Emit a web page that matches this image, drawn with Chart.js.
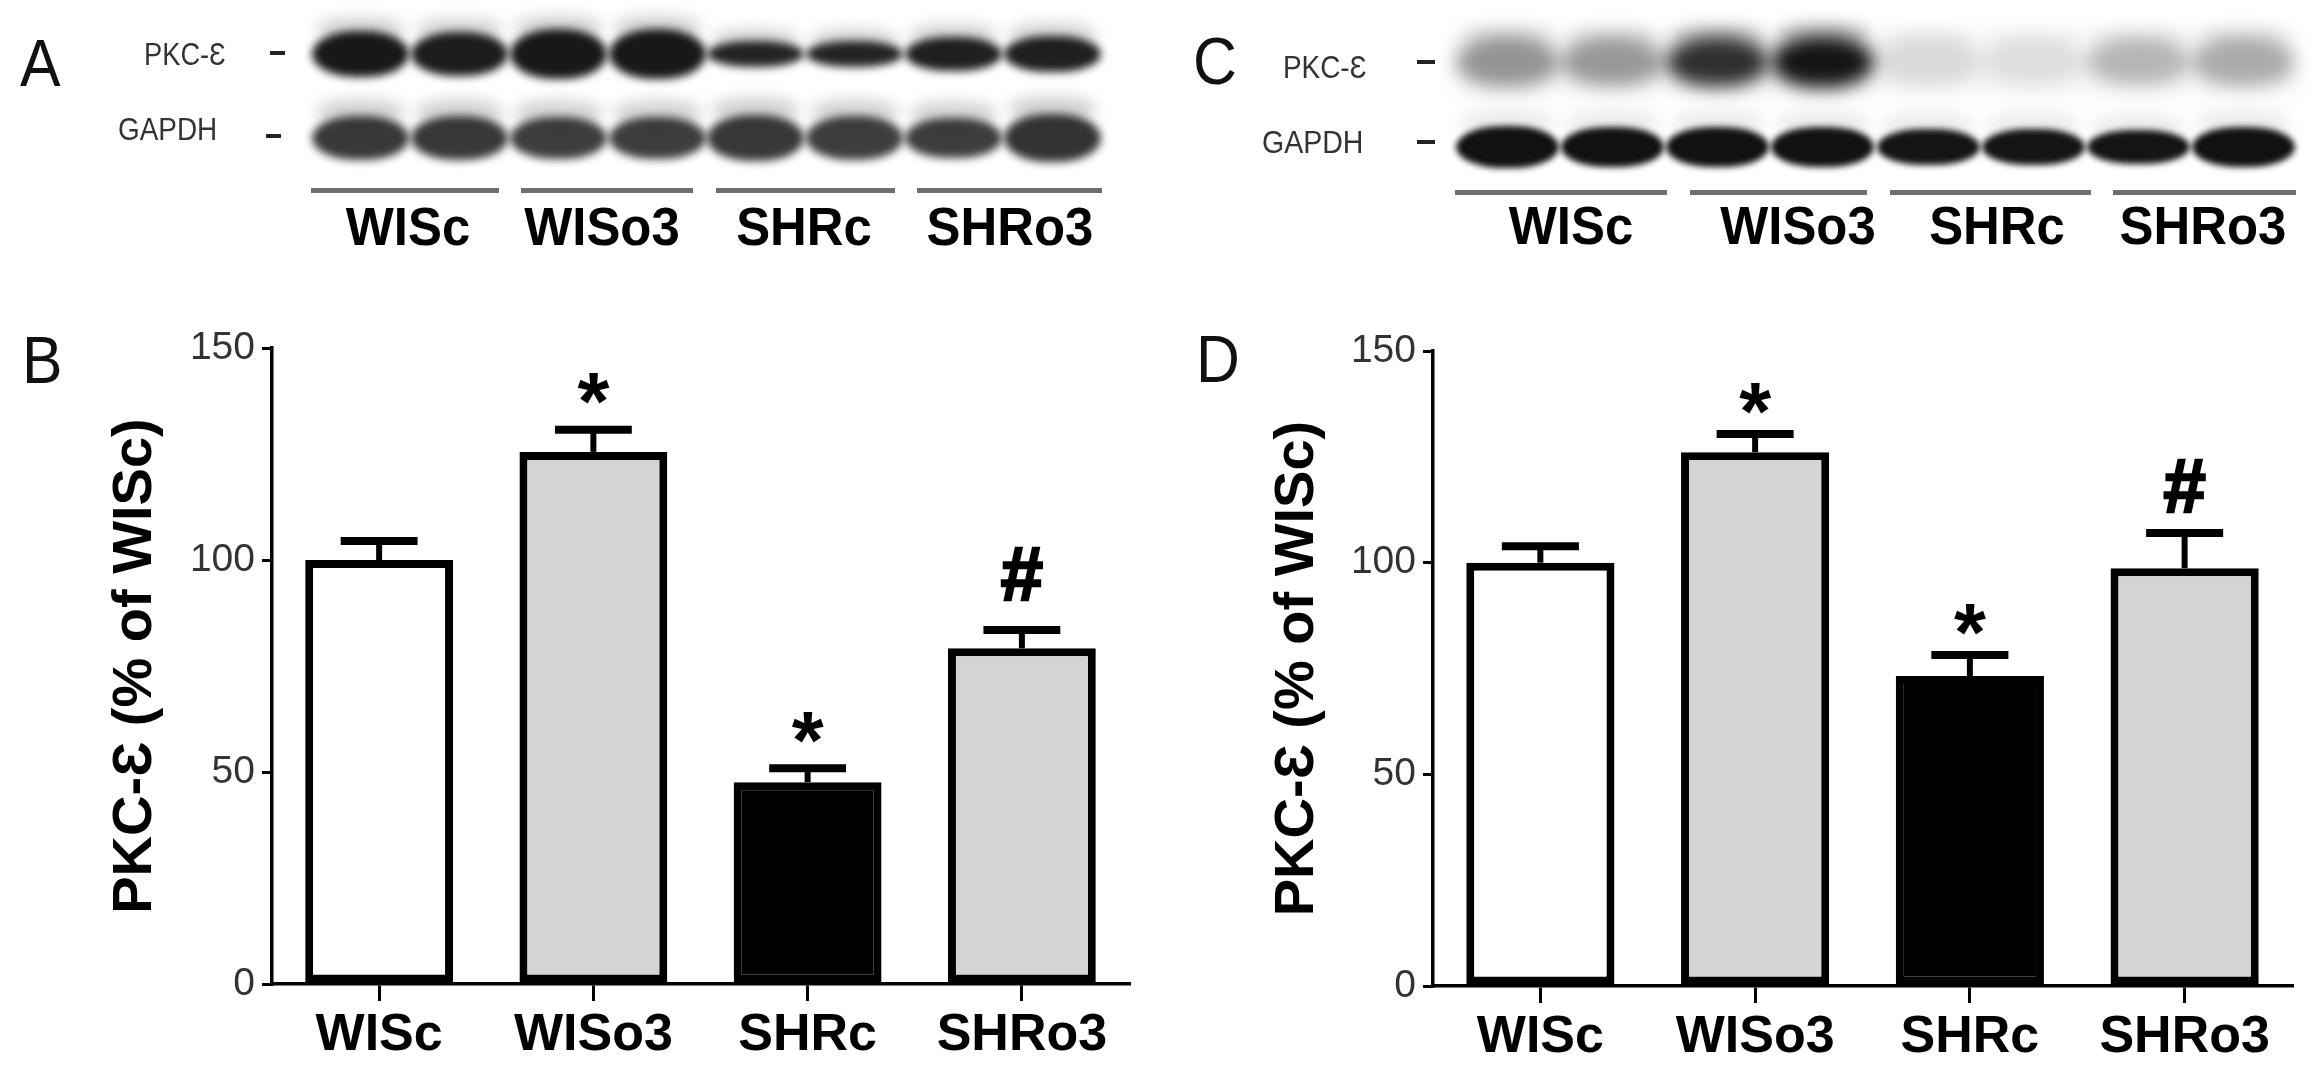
<!DOCTYPE html>
<html>
<head>
<meta charset="utf-8">
<script src="https://cdn.jsdelivr.net/npm/chart.js@4"></script>
<style>
  body { margin: 0; width: 2316px; height: 1080px; background: #fff; position: relative; overflow: hidden;
         font-family: "Liberation Sans", Arial, sans-serif; }
  .abs { position: absolute; white-space: nowrap; line-height: 1; }
  canvas { position: absolute; }
</style>
</head>
<body>
<div id="art"></div>
<canvas id="chartB" width="1160" height="780" style="left:0;top:300px"></canvas>
<canvas id="chartD" width="1156" height="780" style="left:1160px;top:300px"></canvas>
<script>
// group names
const groups = ['WISc', 'WISo3', 'SHRc', 'SHRo3'];
const yTicks = [0, 50, 100, 150];

// panel B (mean, sem, significance marks)
const meanB = [100, 125.5, 47.6, 79.2];
const semB = [4.5, 5.2, 3.3, 4.3];
const marksB = ['', '*', '*', '#'];

// panel D
const meanD = [100, 126.1, 73.2, 98.7];
const semD = [3.9, 4.3, 5.0, 8.3];
const marksD = ['', '*', '*', '#'];

// blot band darkness per lane (0 = none, 1 = black)
const blotA_pkc = [0.95, 0.93, 0.95, 0.95, 0.9, 0.9, 0.92, 0.92];
const blotA_gapdh = [0.82, 0.82, 0.8, 0.8, 0.82, 0.8, 0.8, 0.84];
const blotC_pkc = [0.42, 0.4, 0.85, 0.97, 0.12, 0.1, 0.27, 0.32];
const blotC_gapdh = [0.98, 0.98, 0.98, 0.98, 0.97, 0.97, 0.97, 0.98];

const barFill = ['#ffffff', '#d4d4d4', '#000000', '#d4d4d4'];
const FONT = '"Liberation Sans", Arial, sans-serif';

// ---------- blots and labels (plain html) ----------
const art = document.getElementById('art');

function el(css, text) {
  const d = document.createElement('div');
  d.className = 'abs';
  d.style.cssText += css;
  if (text !== undefined) d.textContent = text;
  art.appendChild(d);
  return d;
}

// text placed by its cap centre
function txt(text, x, yc, size, weight, align, color, sx) {
  const d = el(`top:${yc - 0.4885 * size}px;font-size:${size}px;font-weight:${weight};color:${color || '#000'};`, text);
  if (align === 'center') { d.style.left = x + 'px'; d.style.transform = `translateX(-50%) scaleX(${sx || 1})`; }
  else { d.style.left = x + 'px'; d.style.transformOrigin = 'left'; d.style.transform = `scaleX(${sx || 1})`; }
  return d;
}

function band(cx, cy, w, h, a, blur) {
  el(`left:${cx - w / 2}px;top:${cy - h / 2}px;width:${w}px;height:${h}px;border-radius:45%/50%;` +
     `background:rgba(12,12,12,${a});filter:blur(${blur}px);`);
}

function blot(x0, x1, pkc, gapdh, o) {
  const lw = (x1 - x0) / pkc.length;
  pkc.forEach((a, i) => {
    const cx = x0 + lw * (i + 0.5);
    band(cx, o.pkcY - o.pkcH[i] * 0.55, lw * 0.9, 24, a * 0.18, 7);
    band(cx, o.pkcY, lw * 0.98, o.pkcH[i], a, o.pkcBlur);
  });
  gapdh.forEach((a, i) => {
    const cx = x0 + lw * (i + 0.5);
    band(cx, o.gY - o.gH[i] * 0.6, lw * 0.9, 26, a * o.gSmear, 7);
    band(cx, o.gY, lw * 0.98, o.gH[i], a, o.gBlur);
  });
}

blot(311, 1102, blotA_pkc, blotA_gapdh, {
  pkcY: 54, pkcH: [46, 44, 50, 50, 26, 26, 34, 36], pkcBlur: 4,
  gY: 138, gH: [44, 44, 42, 42, 46, 44, 40, 48], gBlur: 4, gSmear: 0.22
});
el('left:1455px;top:30px;width:841px;height:66px;background:rgba(0,0,0,0.035);filter:blur(10px);');
blot(1455, 2296, blotC_pkc, blotC_gapdh, {
  pkcY: 62, pkcH: [50, 48, 50, 52, 46, 44, 46, 48], pkcBlur: 9,
  gY: 147, gH: [42, 40, 40, 40, 36, 36, 34, 40], gBlur: 3, gSmear: 0.08
});

// underlines and group labels below the blots
const ulA = [[311, 499], [521, 693], [716, 895], [917, 1102]];
const labA = [408, 602, 804, 1010];
const ulC = [[1455, 1667], [1690, 1867], [1890, 2091], [2113, 2296]];
const labC = [1571, 1798, 1997, 2203];
ulA.forEach(s => el(`left:${s[0]}px;top:188px;width:${s[1] - s[0]}px;height:5px;background:#6e6e6e;`));
ulC.forEach(s => el(`left:${s[0]}px;top:190px;width:${s[1] - s[0]}px;height:5px;background:#6e6e6e;`));
groups.forEach((g, i) => {
  txt(g, labA[i], 226, 53, 'bold', 'center', '#000', 0.96);
  txt(g, labC[i], 225, 53, 'bold', 'center', '#000', 0.96);
});

// row labels and markers
txt('PKC-\u0190', 144, 54, 31, 'normal', 'left', '#333', 0.88);
txt('GAPDH', 118, 129, 31, 'normal', 'left', '#333', 0.9);
el('left:270px;top:51px;width:15px;height:4px;background:#222;');
el('left:266px;top:134px;width:15px;height:4px;background:#222;');
txt('PKC-\u0190', 1283, 67, 31, 'normal', 'left', '#333', 0.9);
txt('GAPDH', 1262, 142, 31, 'normal', 'left', '#333', 0.92);
el('left:1417px;top:60px;width:18px;height:4px;background:#222;');
el('left:1417px;top:140px;width:18px;height:4px;background:#222;');

// panel letters
txt('A', 20, 62, 66, 'normal', 'left', '#111', 0.92);
txt('B', 22, 359, 66, 'normal', 'left', '#111', 0.92);
txt('C', 1193, 60, 66, 'normal', 'left', '#111', 0.92);
txt('D', 1196, 358, 66, 'normal', 'left', '#111', 0.92);

// ---------- bar charts ----------
const errorBars = {
  id: 'errorBars',
  afterDatasetsDraw(chart, args, opts) {
    const {ctx, scales: {y}} = chart;
    const bars = chart.getDatasetMeta(0).data;
    const vals = chart.data.datasets[0].data;
    ctx.save();
    ctx.strokeStyle = '#000';
    ctx.fillStyle = '#000';
    ctx.lineCap = 'butt';
    bars.forEach((bar, i) => {
      const top = y.getPixelForValue(vals[i] + opts.sem[i]);
      const half = bar.width * 0.26;
      ctx.lineWidth = 6;
      ctx.beginPath();
      ctx.moveTo(bar.x, bar.y);
      ctx.lineTo(bar.x, top);
      ctx.stroke();
      ctx.lineWidth = 8;
      ctx.beginPath();
      ctx.moveTo(bar.x - half, top);
      ctx.lineTo(bar.x + half, top);
      ctx.stroke();
      const m = opts.marks[i];
      if (m) {
        const star = m === '*';
        const size = star ? opts.starSize : opts.hashSize;
        const gap = star ? opts.starGap : opts.hashGap;
        const ty = top - gap + (star ? 0.553 : 0.36) * size;
        ctx.font = `bold ${size}px ${FONT}`;
        ctx.textAlign = 'center';
        ctx.textBaseline = 'alphabetic';
        ctx.fillText(m, bar.x, ty);
        if (!star) {
          // the hash in the figure is heavier than the font's bold
          ctx.lineWidth = 2.5;
          ctx.strokeText(m, bar.x, ty);
        }
      }
    });
    ctx.restore();
  }
};

function makeChart(id, means, sems, marks, box) {
  return new Chart(document.getElementById(id), {
    type: 'bar',
    data: {
      labels: groups,
      datasets: [{
        data: means,
        backgroundColor: barFill,
        borderColor: '#000',
        borderWidth: 8,
        borderSkipped: false,
        categoryPercentage: 1,
        barPercentage: 0.69
      }]
    },
    plugins: [errorBars],
    options: {
      responsive: false,
      animation: false,
      layout: { padding: { top: box.top, right: box.right, left: 0, bottom: 0 } },
      plugins: {
        legend: { display: false },
        tooltip: { enabled: false },
        errorBars: { sem: sems, marks: marks, starSize: box.starSize, hashSize: box.hashSize,
                     starGap: box.starGap, hashGap: box.hashGap }
      },
      scales: {
        x: {
          afterFit: s => { s.height = box.xh; },
          border: { color: '#000', width: 3.5 },
          grid: { offset: false, drawOnChartArea: false, tickLength: 17, color: '#000', lineWidth: 3 },
          ticks: { color: '#000', padding: 3, font: { family: FONT, size: 52, weight: 'bold' } }
        },
        y: {
          min: 0,
          max: 150,
          afterFit: s => { s.width = box.yw; },
          afterBuildTicks: s => { s.ticks = yTicks.map(v => ({ value: v })); },
          border: { color: '#000', width: 3.5 },
          grid: { drawOnChartArea: false, tickLength: 10, color: '#000', lineWidth: 3 },
          ticks: { color: '#333', padding: 7, font: { family: FONT, size: 39 } },
          title: {
            display: true,
            text: 'PKC-\u0190 (% of WISc)',
            color: '#000',
            padding: { top: box.titlePad, bottom: 0 },
            font: { family: FONT, size: 56, weight: 'bold' }
          }
        }
      }
    }
  });
}

makeChart('chartB', meanB, semB, marksB,
  { top: 48, right: 31, xh: 96, yw: 272, titlePad: 102, starSize: 82, hashSize: 76, starGap: 46, hashGap: 57 });
makeChart('chartD', meanD, semD, marksD,
  { top: 51, right: 24, xh: 94, yw: 273, titlePad: 104, starSize: 82, hashSize: 76, starGap: 40, hashGap: 48 });
</script>
</body>
</html>
